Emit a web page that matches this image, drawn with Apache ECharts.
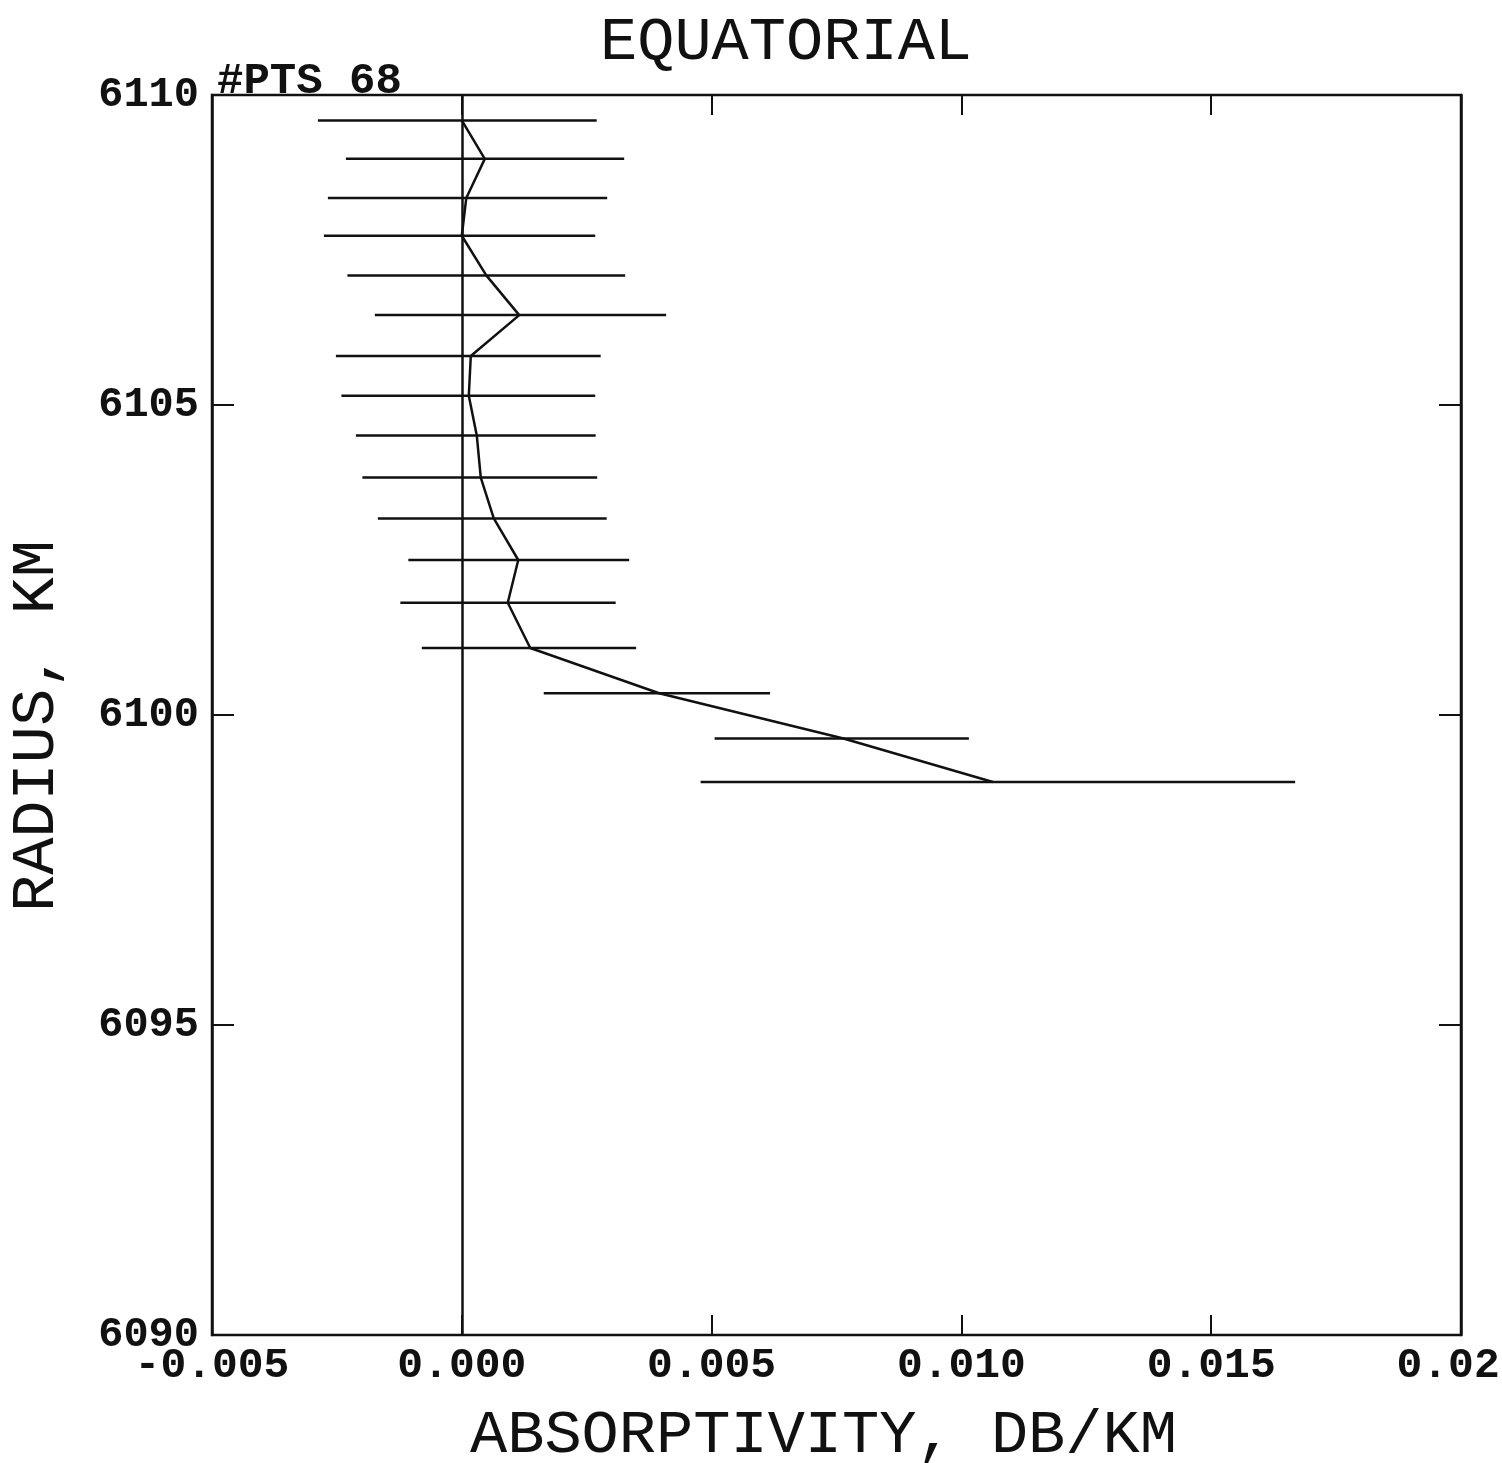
<!DOCTYPE html>
<html>
<head>
<meta charset="utf-8">
<script src="https://cdn.jsdelivr.net/npm/echarts@6/dist/echarts.min.js"></script>
<style>
  html, body { margin: 0; padding: 0; background: #fff; }
  #chart { width: 1502px; height: 1463px; }
</style>
</head>
<body>
<div id="chart"></div>
<script>
// radius of each layer, km
var radius = [6109.59, 6108.97, 6108.34, 6107.73, 6107.09, 6106.45, 6105.79, 6105.15, 6104.51,
              6103.83, 6103.17, 6102.50, 6101.81, 6101.08, 6100.35, 6099.62, 6098.92];
// absorptivity, dB/km
var absorb = [0.00000, 0.00046, 0.00009, 0.00000, 0.00049, 0.00115, 0.00018, 0.00014, 0.00030,
              0.00038, 0.00064, 0.00113, 0.00092, 0.00137, 0.00395, 0.00764, 0.01063];
// error bar ends
var errLow = [-0.00288, -0.00232, -0.00268, -0.00276, -0.00229, -0.00174, -0.00252, -0.00241, -0.00212,
              -0.00199, -0.00168, -0.00107, -0.00123, -0.00080, 0.00164, 0.00506, 0.00478];
var errHigh = [0.00270, 0.00325, 0.00291, 0.00267, 0.00327, 0.00409, 0.00278, 0.00267, 0.00268,
               0.00271, 0.00290, 0.00335, 0.00308, 0.00349, 0.00617, 0.01015, 0.01668];

var xTickLabels = ['-0.005', '0.000', '0.005', '0.010', '0.015', '0.02\u00a0'];
var yTickLabels = ['6090', '6095', '6100', '6105', '6110'];

var ink = '#111';
var mono = '"Liberation Mono", "DejaVu Sans Mono", monospace';

var lineData = [];
var barData = [];
for (var i = 0; i < radius.length; i++) {
    lineData.push([absorb[i], radius[i]]);
    barData.push([errLow[i], errHigh[i], radius[i]]);
}

var chart = echarts.init(document.getElementById('chart'));

var option = {
    animation: false,
    backgroundColor: '#fff',
    grid: {
        left: 212,
        top: 95,
        width: 1249,
        height: 1240,
        containLabel: false,
        outerBoundsMode: 'none',
        show: true,
        borderColor: ink,
        borderWidth: 2.5,
        backgroundColor: 'transparent'
    },
    xAxis: [{
        type: 'value',
        min: -0.005,
        max: 0.02,
        interval: 0.005,
        position: 'bottom',
        axisLine: { show: false, onZero: false },
        axisTick: { show: true, inside: true, length: 20, lineStyle: { color: ink, width: 2 } },
        axisLabel: {
            margin: 10,
            color: ink,
            fontFamily: mono,
            fontWeight: 'bold',
            fontSize: 43,
            formatter: function (v, idx) { return xTickLabels[idx]; }
        },
        splitLine: { show: false }
    }, {
        type: 'value',
        min: -0.005,
        max: 0.02,
        interval: 0.005,
        position: 'top',
        axisLine: { show: false, onZero: false },
        axisTick: { show: true, inside: true, length: 20, lineStyle: { color: ink, width: 2 } },
        axisLabel: { show: false },
        splitLine: { show: false }
    }],
    yAxis: [{
        type: 'value',
        min: 6090,
        max: 6110,
        interval: 5,
        position: 'left',
        axisLine: { show: true, onZero: false, lineStyle: { color: ink, width: 2.5 } },
        axisTick: { show: true, inside: true, length: 22, lineStyle: { color: ink, width: 2 } },
        axisLabel: {
            margin: 13,
            color: ink,
            fontFamily: mono,
            fontWeight: 'bold',
            fontSize: 42,
            formatter: function (v, idx) { return yTickLabels[idx]; }
        },
        splitLine: { show: false }
    }, {
        type: 'value',
        min: 6090,
        max: 6110,
        interval: 5,
        position: 'right',
        axisLine: { show: true, onZero: false, lineStyle: { color: ink, width: 2.5 } },
        axisTick: { show: true, inside: true, length: 22, lineStyle: { color: ink, width: 2 } },
        axisLabel: { show: false },
        splitLine: { show: false }
    }],
    series: [{
        type: 'custom',
        xAxisIndex: 0,
        yAxisIndex: 0,
        data: barData,
        encode: { x: [0, 1], y: 2 },
        renderItem: function (params, api) {
            var a = api.coord([api.value(0), api.value(2)]);
            var b = api.coord([api.value(1), api.value(2)]);
            return {
                type: 'line',
                shape: { x1: a[0], y1: a[1], x2: b[0], y2: b[1] },
                style: { stroke: ink, lineWidth: 2.5 }
            };
        },
        silent: true
    }, {
        type: 'line',
        xAxisIndex: 0,
        yAxisIndex: 0,
        data: lineData,
        symbol: 'none',
        lineStyle: { color: ink, width: 2.5 },
        silent: true,
        markLine: {
            silent: true,
            symbol: ['none', 'none'],
            label: { show: false },
            lineStyle: { color: ink, width: 2.5, type: 'solid' },
            data: [{ xAxis: 0 }]
        }
    }],
    graphic: [{
        type: 'text',
        left: 600,
        top: 12,
        style: { text: 'EQUATORIAL', font: '62px ' + mono, fill: ink }
    }, {
        type: 'text',
        left: 217,
        top: 60,
        style: { text: '#PTS 68', font: 'bold 44px ' + mono, fill: ink }
    }, {
        type: 'text',
        left: 470,
        top: 1405,
        style: { text: 'ABSORPTIVITY, DB/KM', font: '62px ' + mono, fill: ink }
    }, {
        type: 'text',
        left: 6,
        top: 540,
        rotation: Math.PI / 2,
        style: { text: 'RADIUS, KM', font: '62px ' + mono, fill: ink }
    }]
};

chart.setOption(option);
</script>
</body>
</html>
